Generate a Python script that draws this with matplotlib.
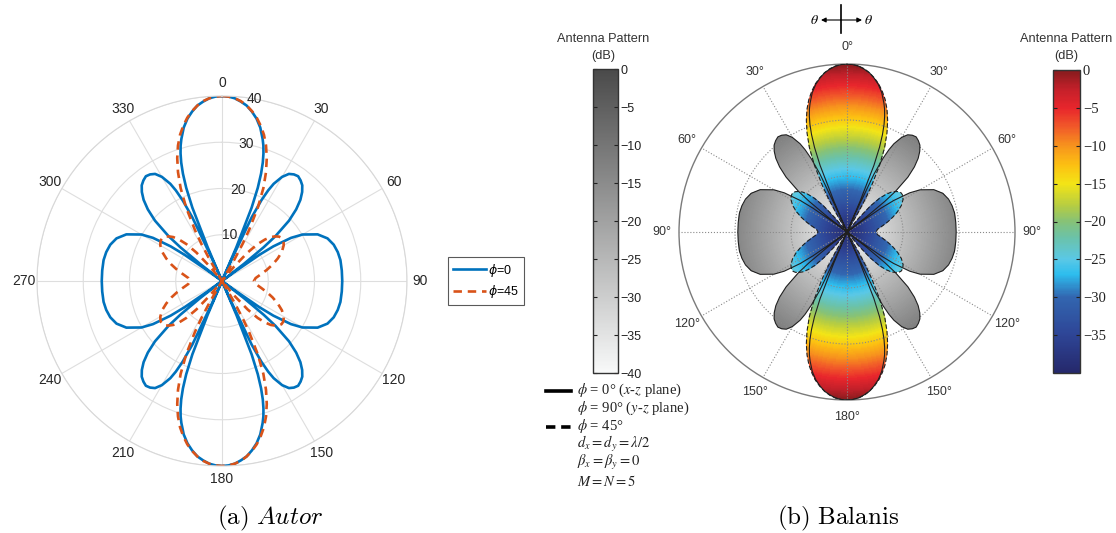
import numpy as np
import matplotlib
matplotlib.use("Agg")
import matplotlib.pyplot as plt
from matplotlib.colors import LinearSegmentedColormap, Normalize
from matplotlib.patches import Polygon
from matplotlib.cm import ScalarMappable

# pattern, one quadrant (theta in deg, radius = dB + 40)
theta_phi0 = [0, 2, 4, 6, 8, 10, 12, 14, 16, 17, 18, 19, 20, 21, 22, 23, 23.6,
              24, 25, 26, 27, 28, 30, 32, 34, 36, 38, 40, 42, 44, 46, 48, 50,
              51, 52, 53.1, 54, 55, 56, 58, 60, 64, 68, 72, 76, 80, 85, 90]
r_phi0 = [40, 39.9, 39.6, 39.0, 38.3, 37.2, 35.9, 34.2, 31.9, 30.6, 29.0, 27.1,
          24.7, 21.6, 17.1, 8.0, 0, 4.9, 15.2, 19.4, 22.0, 23.8, 26.0, 27.3,
          27.8, 28.0, 27.6, 27.0, 25.9, 24.4, 22.3, 19.5, 15.1, 11.6, 6.0, 0,
          3.4, 9.9, 13.4, 17.6, 20.1, 23.0, 24.6, 25.4, 25.8, 26.0, 26.0, 26.0]

theta_phi45 = [0, 2, 4, 6, 8, 10, 12, 14, 16, 18, 20, 22, 24, 26, 28, 29, 30, 31,
               34.4, 38.8, 40, 42, 44, 46, 48, 50, 52, 54, 56, 58, 60, 64, 68,
               72, 76, 80, 85, 90]
r_phi45 = [40, 39.9, 39.6, 39.1, 38.3, 37.3, 36.1, 34.6, 32.9, 30.8, 28.3, 25.4,
           22.0, 17.7, 12.4, 9.2, 5.3, 0.3, 0, 0, 4.1, 8.3, 11.1, 12.9, 14.2,
           15.0, 15.6, 15.9, 15.9, 15.7, 15.4, 14.4, 13.0, 11.5, 10.0, 8.6, 7.3, 6.9]

theta_ticks = np.arange(0, 360, 30)
left_labels = ['0', '30', '60', '90', '120', '150', '180', '210', '240', '270', '300', '330']
r_ticks = [10, 20, 30, 40]
right_labels = ['0°', '30°', '60°', '90°', '120°', '150°', '180°',
                '150°', '120°', '90°', '60°', '30°']
gray_ticks = [0, -5, -10, -15, -20, -25, -30, -35, -40]
color_ticks = [0, -5, -10, -15, -20, -25, -30, -35]


def full_circle(th, r):
    # the pattern is symmetric in all four quadrants
    th = np.array(th, dtype=float)
    r = np.array(r, dtype=float)
    t = np.concatenate([th, 180 - th[::-1][1:], 180 + th[1:], 360 - th[::-1][1:]])
    rr = np.concatenate([r, r[::-1][1:], r[1:], r[::-1][1:]])
    return np.deg2rad(t), rr


th0, r0 = full_circle(theta_phi0, r_phi0)
th45, r45 = full_circle(theta_phi45, r_phi45)

W, H = 1116, 533
fig = plt.figure(figsize=(W / 100, H / 100), dpi=100)


def rect(cx, cy, rx, ry):
    return [(cx - rx) / W, (H - cy - ry) / H, 2 * rx / W, 2 * ry / H]


# ---------------- (a) left polar plot ----------------
axL = fig.add_axes(rect(222, 281, 185, 185), projection='polar')
axL.set_theta_zero_location('N')
axL.set_theta_direction(-1)
axL.plot(th0, r0, color='#0072BD', lw=1.9, label=r'$\phi$=0')
axL.plot(th45, r45, color='#D95319', lw=1.9, ls=(0, (3.2, 2.2)), label=r'$\phi$=45')
axL.set_ylim(0, 40)
axL.set_rticks(r_ticks)
axL.set_yticklabels([])
for rv in r_ticks:
    axL.text(np.deg2rad(10), rv, str(rv), ha='center', va='center', fontsize=10,
             family='Liberation Sans', color='#262626')
axL.set_thetagrids(theta_ticks, left_labels)
axL.grid(color='#dedede', lw=0.8)
axL.spines['polar'].set_color('#d8d8d8')
axL.spines['polar'].set_linewidth(0.8)
axL.tick_params(labelsize=10, labelcolor='#262626', pad=-1)
for lb in axL.get_xticklabels():
    lb.set_fontfamily('Liberation Sans')

leg = axL.legend(loc='center', bbox_to_anchor=(486 / W, 1 - 281 / H),
                 bbox_transform=fig.transFigure, fontsize=9, frameon=True,
                 fancybox=False, handlelength=2.6, borderpad=0.4, labelspacing=0.35,
                 handletextpad=0.2, borderaxespad=0)
leg.get_frame().set_edgecolor('#303030')
leg.get_frame().set_linewidth(0.8)
for t in leg.get_texts():
    t.set_fontfamily('Liberation Sans')

# ---------------- (b) right polar plot ----------------
gray_cmap = LinearSegmentedColormap.from_list('gr', ['#f8f9f9', '#4a4a4a'])
jet_pos = [0, .125, .25, .325, .375, .45, .5, .55, .625, .6875, .75, .8125, .875, .9375, 1]
jet_col = ['#25286b', '#2e4596', '#3266b0', '#2dbdee', '#5ac8e6', '#6cc2a6', '#86c277',
           '#b4cc44', '#f3e416', '#fcc012', '#f7941d', '#f15a29', '#e8262c', '#c4202a', '#861b1d']
jet_cmap = LinearSegmentedColormap.from_list('jt', list(zip(jet_pos, jet_col)))
norm = Normalize(-40, 0)

axR = fig.add_axes(rect(847, 232, 168, 168), projection='polar')
axR.set_theta_zero_location('N')
axR.set_theta_direction(-1)
tg = np.linspace(0, 2 * np.pi, 361)
rg = np.linspace(0, 40, 161)
TG, RG = np.meshgrid(tg, rg)
db = np.repeat(((rg[:-1] + rg[1:]) / 2 - 40)[:, None], len(tg) - 1, axis=1)

mesh_g = axR.pcolormesh(TG, RG, db, cmap=gray_cmap, norm=norm, shading='flat',
                        edgecolors='none', zorder=1)
mesh_g.set_clip_path(Polygon(np.column_stack([th0, r0]), closed=True,
                             transform=axR.transData))
mesh_c = axR.pcolormesh(TG, RG, db, cmap=jet_cmap, norm=norm, shading='flat',
                        edgecolors='none', zorder=1.1)
mesh_c.set_clip_path(Polygon(np.column_stack([th45, r45]), closed=True,
                             transform=axR.transData))
axR.plot(th0, r0, color='#202020', lw=0.8, zorder=3)
axR.plot(th45, r45, color='#202020', lw=0.8, ls=(0, (4, 2)), zorder=3)
axR.set_ylim(0, 40)
axR.set_rgrids([40 / 3, 80 / 3], labels=['', ''])
axR.set_thetagrids(theta_ticks, right_labels)
axR.grid(color='#8a8a8a', ls=':', lw=0.8)
axR.spines['polar'].set_color('#7a7a7a')
axR.spines['polar'].set_linewidth(1.0)
axR.tick_params(labelsize=9, labelcolor='#333333', pad=1.5)
for lb in axR.get_xticklabels():
    lb.set_fontfamily('Liberation Sans')

# colorbars
caxG = fig.add_axes([593 / W, (H - 373) / H, 25 / W, 304 / H])
cbG = fig.colorbar(ScalarMappable(norm, gray_cmap), cax=caxG, ticks=gray_ticks)
caxC = fig.add_axes([1053 / W, (H - 373) / H, 27 / W, 303 / H])
cbC = fig.colorbar(ScalarMappable(norm, jet_cmap), cax=caxC, ticks=color_ticks)
for cax, cb, fam, fs in [(caxG, cbG, 'Liberation Sans', 9), (caxC, cbC, 'Liberation Serif', 10.5)]:
    cb.outline.set_edgecolor('#333333')
    cb.outline.set_linewidth(1.0)
    cax.yaxis.set_ticks_position('both')
    cax.tick_params(direction='in', length=3, width=0.8, labelleft=False,
                    labelright=True, labelsize=fs, pad=2, colors='#222222')
    for lb in cax.get_yticklabels():
        lb.set_fontfamily(fam)

for cx in [603, 1066]:
    fig.text(cx / W, 1 - 39 / H, 'Antenna Pattern', ha='center', va='center',
             fontsize=9.2, family='Liberation Sans', color='#333333')
    fig.text(cx / W, 1 - 56 / H, '(dB)', ha='center', va='center',
             fontsize=9.2, family='Liberation Sans', color='#333333')

# overlay in pixel coordinates for the annotations of panel (b)
ov = fig.add_axes([0, 0, 1, 1])
ov.set_xlim(0, W)
ov.set_ylim(H, 0)
ov.axis('off')
ov.patch.set_alpha(0)

ov.plot([841, 841], [5, 33], color='black', lw=1.2)
ov.annotate('', xy=(821, 20), xytext=(841, 20),
            arrowprops=dict(arrowstyle='-|>', lw=0.8, color='black', mutation_scale=7, shrinkA=0, shrinkB=0))
ov.annotate('', xy=(862, 20), xytext=(841, 20),
            arrowprops=dict(arrowstyle='-|>', lw=0.8, color='black', mutation_scale=7, shrinkA=0, shrinkB=0))
ov.text(814, 20, r'$\theta$', ha='center', va='center', fontsize=10, math_fontfamily='stix')
ov.text(868, 20, r'$\theta$', ha='center', va='center', fontsize=10, math_fontfamily='stix')

ov.plot([546, 571], [391, 391], color='black', lw=2.6)
ov.plot([546, 571], [427, 427], color='black', lw=2.6, ls=(0, (2.6, 1.6)))
notes = [r'$\phi$ = 0° ($x$-$z$ plane)', r'$\phi$ = 90° ($y$-$z$ plane)', r'$\phi$ = 45°',
         r'$d_x = d_y = \lambda/2$', r'$\beta_x = \beta_y = 0$', r'$M = N = 5$']
for yy, s in zip([390, 408, 426, 444, 462, 481], notes):
    ov.text(577, yy, s, ha='left', va='center', fontsize=10.5, family='Liberation Serif',
            math_fontfamily='stix', color='#222222')

# captions
fig.text(270 / W, 1 - 518 / H, r'$\mathrm{(a)}\ \mathit{Autor}$', ha='center', va='center',
         fontsize=18, math_fontfamily='cm')
fig.text(838 / W, 1 - 518 / H, r'$\mathrm{(b)\ Balanis}$', ha='center', va='center',
         fontsize=18, math_fontfamily='cm')

fig.savefig('out.png', dpi=100)
